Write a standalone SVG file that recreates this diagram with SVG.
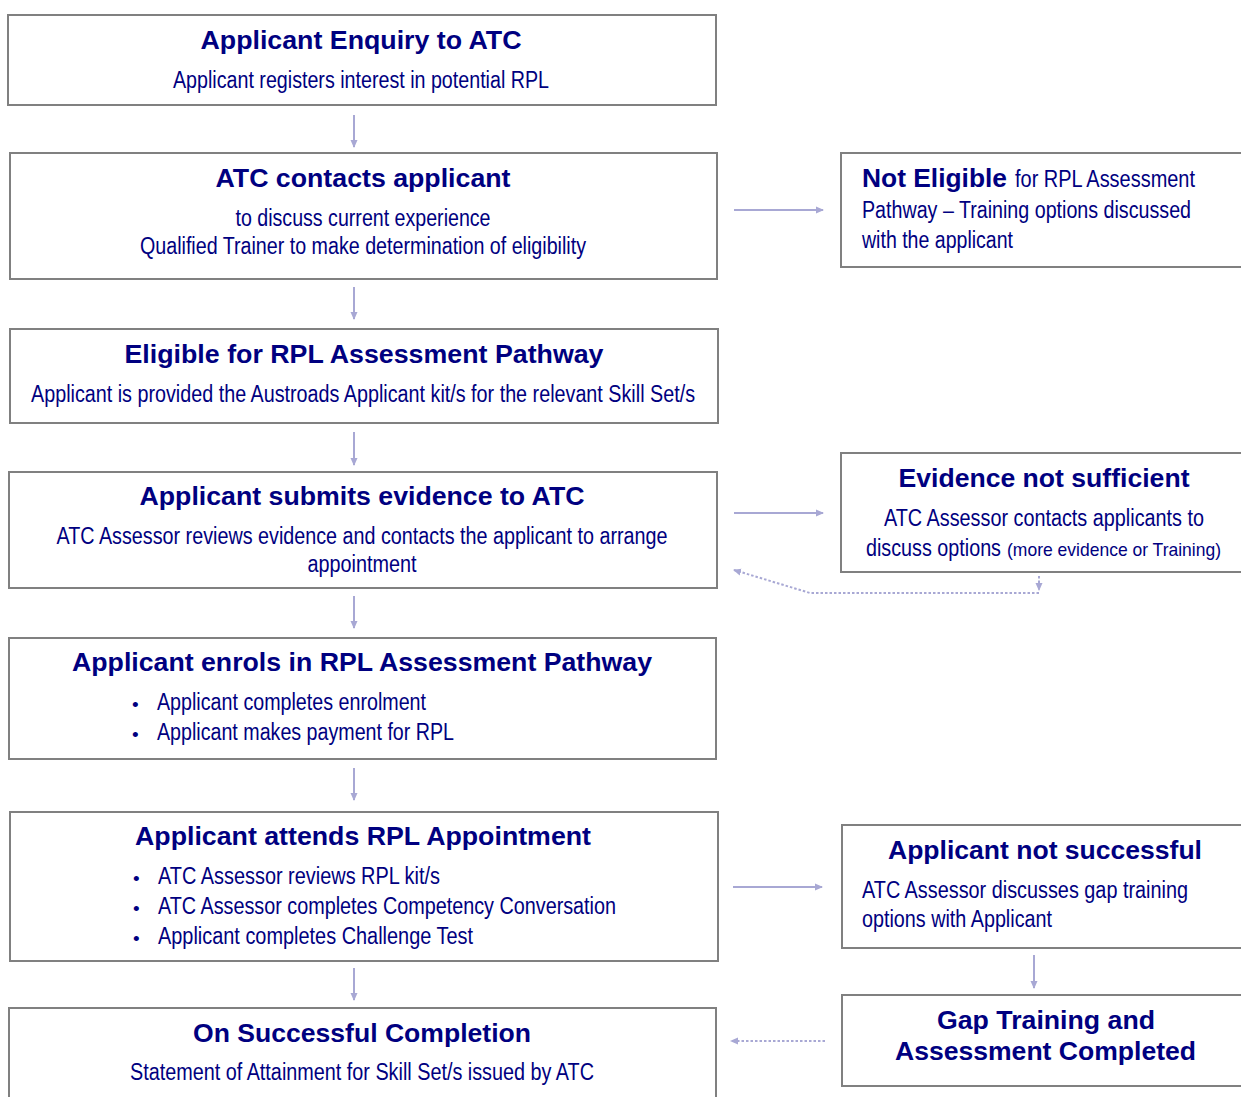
<svg xmlns="http://www.w3.org/2000/svg" width="1241" height="1097" viewBox="0 0 1241 1097">
<style>
.box{fill:#fff;stroke:#808080;stroke-width:2}
.t{font-family:"Liberation Sans",Arial,sans-serif;font-weight:bold;font-size:26px;fill:#000080}
.b{font-family:"Liberation Sans Narrow","Arial Narrow","Liberation Sans",sans-serif;font-size:23.5px;fill:#000080}
.s{font-family:"Liberation Sans Narrow","Arial Narrow","Liberation Sans",sans-serif;font-size:19px;fill:#000080}
.c{text-anchor:middle}
.dot{font-family:"Liberation Sans",sans-serif;font-size:19px;fill:#000080}
.ar{stroke:#a8a8d4;stroke-width:2;fill:none}
.dash{stroke-dasharray:2.5,2}
</style>
<defs>
<marker id="ah" markerWidth="8" markerHeight="8" refX="7" refY="4" orient="auto" markerUnits="userSpaceOnUse">
<path d="M0,0.5 L8,4 L0,7.5 z" fill="#a8a8d4"/>
</marker>
</defs>
<rect width="1241" height="1097" fill="#fff"/>

<g id="connectors">
<line class="ar" x1="354" y1="115" x2="354" y2="147" marker-end="url(#ah)"/>
<line class="ar" x1="354" y1="287" x2="354" y2="319" marker-end="url(#ah)"/>
<line class="ar" x1="354" y1="432" x2="354" y2="465" marker-end="url(#ah)"/>
<line class="ar" x1="354" y1="596" x2="354" y2="628" marker-end="url(#ah)"/>
<line class="ar" x1="354" y1="768" x2="354" y2="800" marker-end="url(#ah)"/>
<line class="ar" x1="354" y1="968" x2="354" y2="1000" marker-end="url(#ah)"/>
<line class="ar" x1="734" y1="210" x2="823" y2="210" marker-end="url(#ah)"/>
<line class="ar" x1="734" y1="513" x2="823" y2="513" marker-end="url(#ah)"/>
<line class="ar" x1="733" y1="887" x2="822" y2="887" marker-end="url(#ah)"/>
<line class="ar" x1="1034" y1="955" x2="1034" y2="988" marker-end="url(#ah)"/>
<line class="ar dash" x1="825" y1="1041" x2="731" y2="1041" marker-end="url(#ah)"/>
<line class="ar dash" x1="1039" y1="576" x2="1039" y2="590" marker-end="url(#ah)"/>
<polyline class="ar dash" points="1039,593 810,593 734,570" marker-end="url(#ah)"/>
</g>

<g id="n1">
<rect class="box" x="8" y="15" width="708" height="90"/>
<text class="t c" x="361" y="49" textLength="321" lengthAdjust="spacingAndGlyphs">Applicant Enquiry to ATC</text>
<text class="b c" x="361" y="88" textLength="376" lengthAdjust="spacingAndGlyphs">Applicant registers interest in potential RPL</text>
</g>

<g id="n2">
<rect class="box" x="10" y="153" width="707" height="126"/>
<text class="t c" x="363" y="187" textLength="295" lengthAdjust="spacingAndGlyphs">ATC contacts applicant</text>
<text class="b c" x="363" y="226" textLength="255" lengthAdjust="spacingAndGlyphs">to discuss current experience</text>
<text class="b c" x="363" y="254" textLength="446" lengthAdjust="spacingAndGlyphs">Qualified Trainer to make determination of eligibility</text>
</g>

<g id="n3">
<rect class="box" x="10" y="329" width="708" height="94"/>
<text class="t c" x="364" y="363" textLength="479" lengthAdjust="spacingAndGlyphs">Eligible for RPL Assessment Pathway</text>
<text class="b c" x="363" y="402" textLength="664" lengthAdjust="spacingAndGlyphs">Applicant is provided the Austroads Applicant kit/s for the relevant Skill Set/s</text>
</g>

<g id="n4">
<rect class="box" x="9" y="472" width="708" height="116"/>
<text class="t c" x="362" y="505" textLength="445" lengthAdjust="spacingAndGlyphs">Applicant submits evidence to ATC</text>
<text class="b c" x="362" y="544" textLength="611" lengthAdjust="spacingAndGlyphs">ATC Assessor reviews evidence and contacts the applicant to arrange</text>
<text class="b c" x="362" y="572" textLength="109" lengthAdjust="spacingAndGlyphs">appointment</text>
</g>

<g id="n5">
<rect class="box" x="9" y="638" width="707" height="121"/>
<text class="t c" x="362" y="671" textLength="580" lengthAdjust="spacingAndGlyphs">Applicant enrols in RPL Assessment Pathway</text>
<text class="dot" x="132" y="711">•</text>
<text class="b" x="157" y="710" textLength="269" lengthAdjust="spacingAndGlyphs">Applicant completes enrolment</text>
<text class="dot" x="132" y="741">•</text>
<text class="b" x="157" y="740" textLength="297" lengthAdjust="spacingAndGlyphs">Applicant makes payment for RPL</text>
</g>

<g id="n6">
<rect class="box" x="10" y="812" width="708" height="149"/>
<text class="t c" x="363" y="845" textLength="456" lengthAdjust="spacingAndGlyphs">Applicant attends RPL Appointment</text>
<text class="dot" x="133" y="885">•</text>
<text class="b" x="158" y="884" textLength="282" lengthAdjust="spacingAndGlyphs">ATC Assessor reviews RPL kit/s</text>
<text class="dot" x="133" y="915">•</text>
<text class="b" x="158" y="914" textLength="458" lengthAdjust="spacingAndGlyphs">ATC Assessor completes Competency Conversation</text>
<text class="dot" x="133" y="945">•</text>
<text class="b" x="158" y="944" textLength="315" lengthAdjust="spacingAndGlyphs">Applicant completes Challenge Test</text>
</g>

<g id="n7">
<rect class="box" x="9" y="1008" width="707" height="100"/>
<text class="t c" x="362" y="1042" textLength="338" lengthAdjust="spacingAndGlyphs">On Successful Completion</text>
<text class="b c" x="362" y="1080" textLength="464" lengthAdjust="spacingAndGlyphs">Statement of Attainment for Skill Set/s issued by ATC</text>
</g>

<g id="r1">
<rect class="box" x="841" y="153" width="401" height="114"/>
<text class="t" x="862" y="187" textLength="145" lengthAdjust="spacingAndGlyphs">Not Eligible</text>
<text class="b" x="1015" y="187" textLength="180" lengthAdjust="spacingAndGlyphs">for RPL Assessment</text>
<text class="b" x="862" y="218" textLength="329" lengthAdjust="spacingAndGlyphs">Pathway – Training options discussed</text>
<text class="b" x="862" y="248" textLength="151" lengthAdjust="spacingAndGlyphs">with the applicant</text>
</g>

<g id="r2">
<rect class="box" x="841" y="453" width="401" height="119"/>
<text class="t c" x="1044" y="487" textLength="291" lengthAdjust="spacingAndGlyphs">Evidence not sufficient</text>
<text class="b c" x="1044" y="526" textLength="320" lengthAdjust="spacingAndGlyphs">ATC Assessor contacts applicants to</text>
<text class="b" x="866" y="556" textLength="135" lengthAdjust="spacingAndGlyphs">discuss options</text>
<text class="s" x="1007" y="556" textLength="214" lengthAdjust="spacingAndGlyphs">(more evidence or Training)</text>
</g>

<g id="r3">
<rect class="box" x="842" y="825" width="400" height="123"/>
<text class="t c" x="1045" y="859" textLength="314" lengthAdjust="spacingAndGlyphs">Applicant not successful</text>
<text class="b" x="862" y="898" textLength="326" lengthAdjust="spacingAndGlyphs">ATC Assessor discusses gap training</text>
<text class="b" x="862" y="927" textLength="190" lengthAdjust="spacingAndGlyphs">options with Applicant</text>
</g>

<g id="r4">
<rect class="box" x="842" y="995" width="400" height="91"/>
<text class="t c" x="1046" y="1029" textLength="218" lengthAdjust="spacingAndGlyphs">Gap Training and</text>
<text class="t c" x="1045.5" y="1060" textLength="301" lengthAdjust="spacingAndGlyphs">Assessment Completed</text>
</g>
</svg>
